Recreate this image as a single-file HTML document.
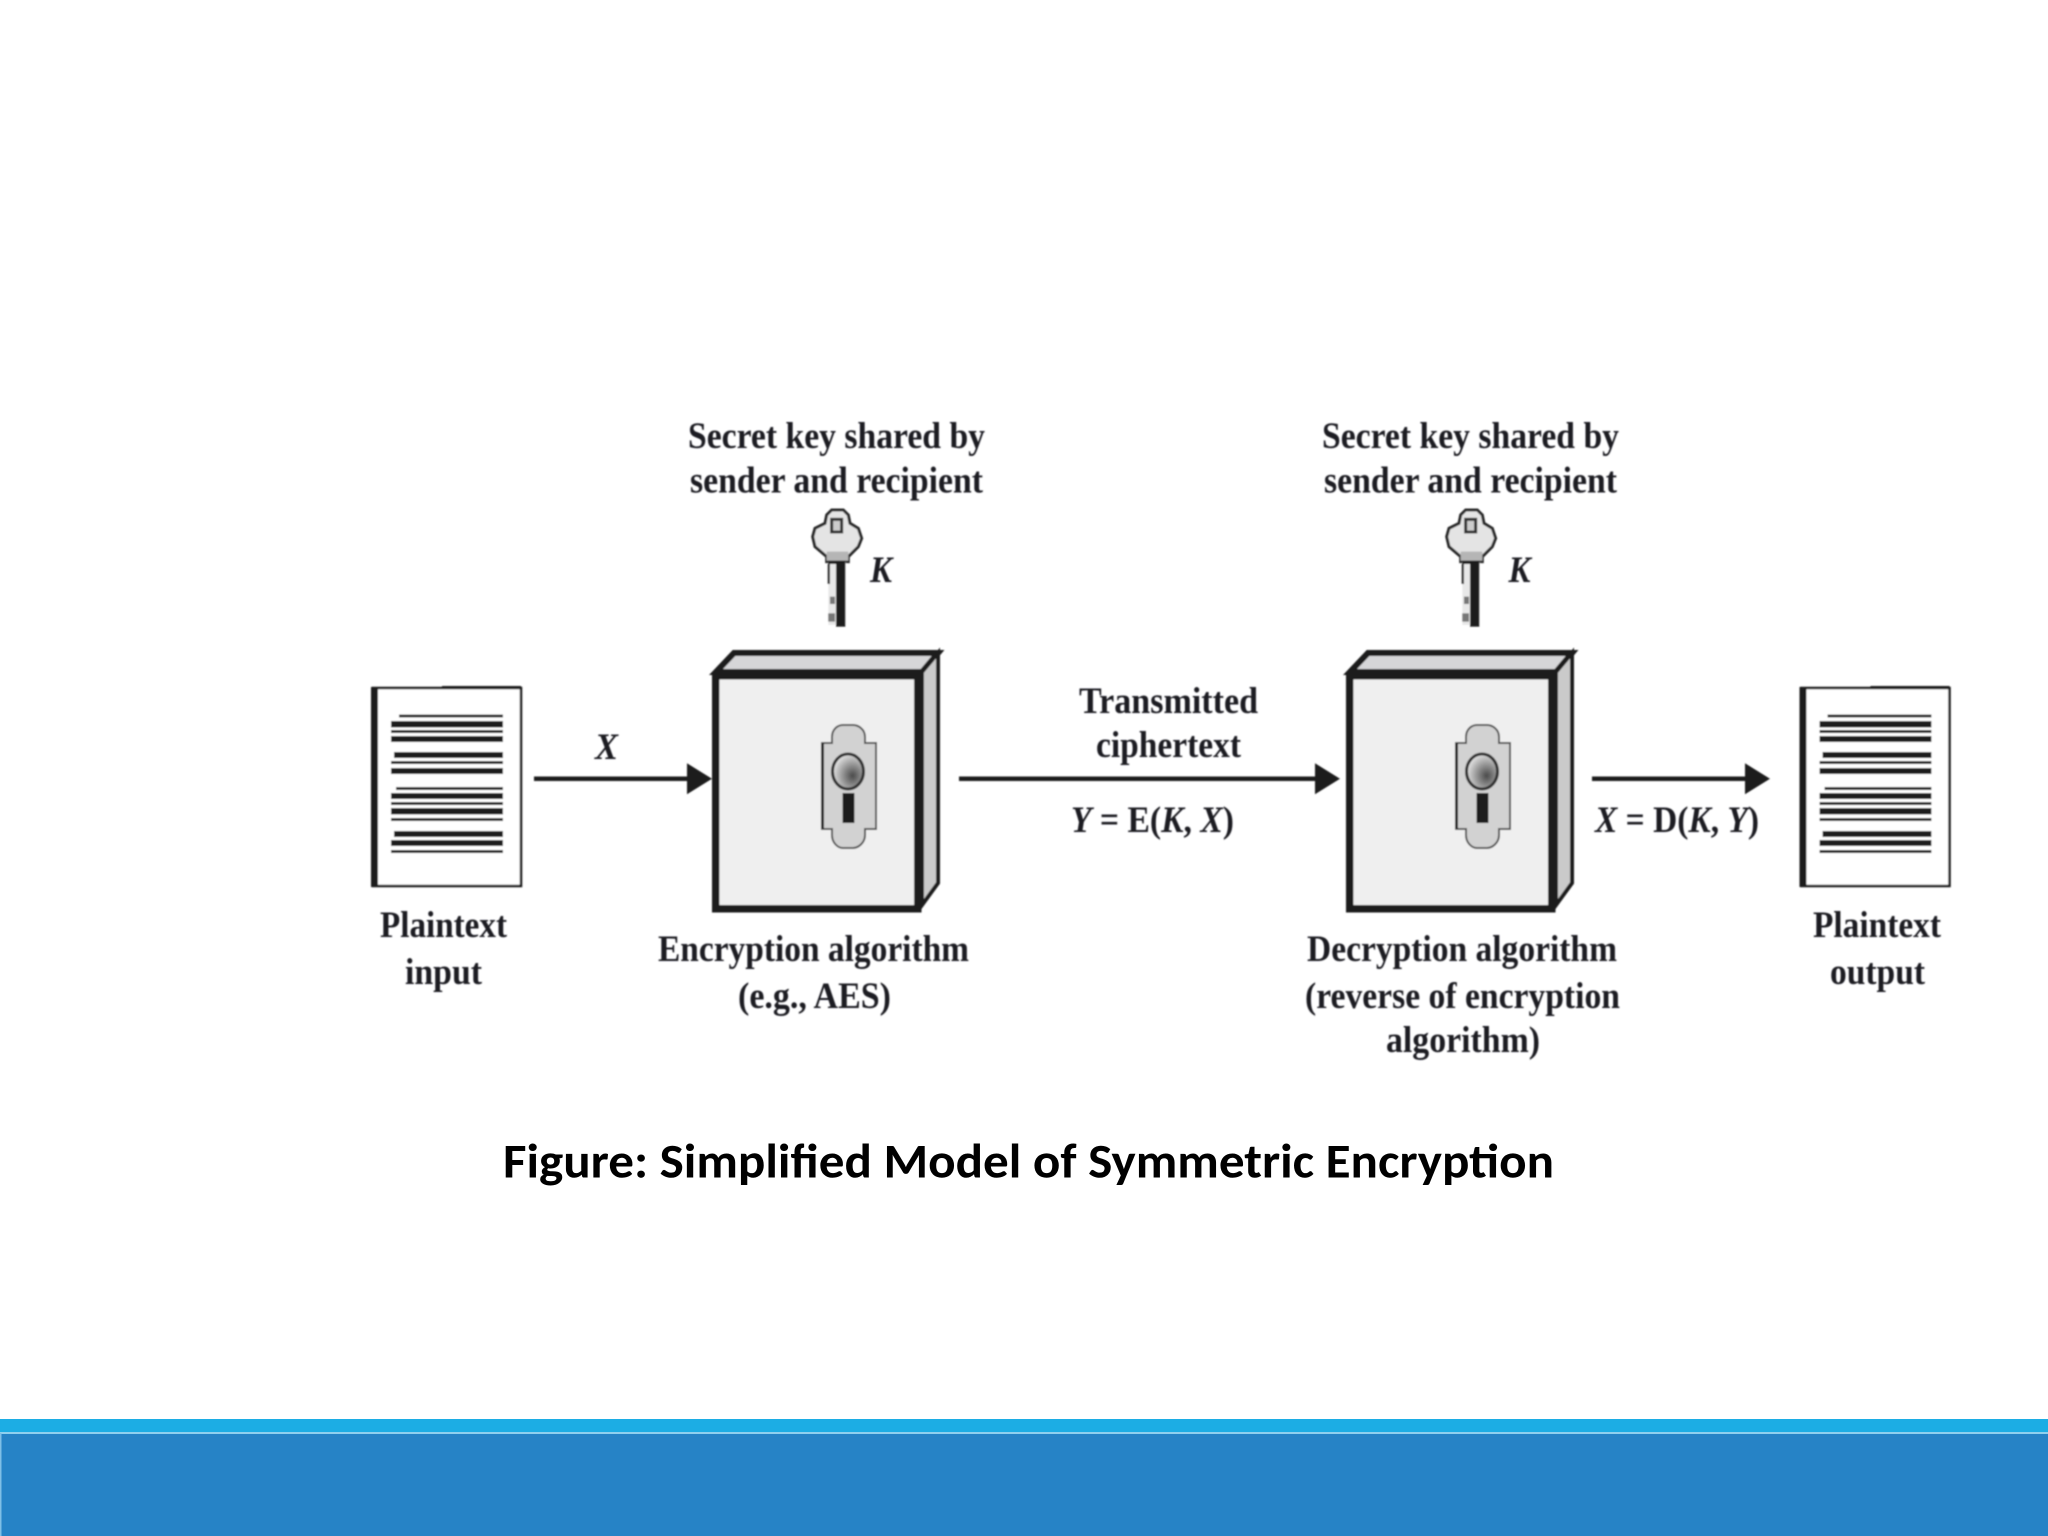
<!DOCTYPE html>
<html><head><meta charset="utf-8"><title>Simplified Model of Symmetric Encryption</title>
<style>html,body{margin:0;padding:0;background:#fff;width:2048px;height:1536px;overflow:hidden}svg{display:block}
.t{font-family:"Liberation Serif",serif;font-weight:bold;font-size:37px;fill:#1d1d24}
.i{font-style:italic}
.c{font-family:"Carlito","Liberation Sans",sans-serif;font-weight:bold;font-size:49px;fill:#000}</style></head>
<body>
<svg width="2048" height="1536" viewBox="0 0 2048 1536" xmlns="http://www.w3.org/2000/svg">
<defs>
<radialGradient id="g" cx="0.65" cy="0.62" r="0.65"><stop offset="0" stop-color="#4a4a4a"/><stop offset="1" stop-color="#e2e2e2"/></radialGradient>
<filter id="b" x="-2%" y="-2%" width="104%" height="104%"><feGaussianBlur stdDeviation="0.85"/></filter>
<g id="doc">
<rect x="373" y="688" width="148" height="198" fill="#fff" stroke="#1a1a1a" stroke-width="2.5"/>
<rect x="371" y="687" width="7" height="200" fill="#1a1a1a"/>
<rect x="442" y="686" width="79" height="3" fill="#1a1a1a"/>
<g fill="#1a1a1a">
<rect x="399" y="714.5" width="104" height="3"/><rect x="391" y="721" width="112" height="6.5"/><rect x="391" y="730" width="112" height="3"/><rect x="391" y="736" width="112" height="6"/>
<rect x="394" y="752" width="109" height="6"/><rect x="391" y="761" width="112" height="3"/><rect x="391" y="768" width="112" height="6"/>
<rect x="396" y="787" width="107" height="3"/><rect x="391" y="793" width="112" height="6"/><rect x="391" y="802" width="112" height="3"/><rect x="391" y="808" width="112" height="6.5"/><rect x="391" y="818" width="112" height="3"/>
<rect x="394" y="831" width="109" height="6"/><rect x="391" y="840" width="112" height="6"/><rect x="391" y="850" width="112" height="3"/>
</g></g>
<g id="box">
<polygon points="716,672 734,653 938,653 922,672" fill="#d6d6d8" stroke="#1a1a1a" stroke-width="6"/>
<polygon points="922,672 938,653 938,883 922,905" fill="#cacaca" stroke="#1a1a1a" stroke-width="4"/>
<rect x="715.75" y="675.75" width="202" height="233" fill="#efefef" stroke="#1a1a1a" stroke-width="7.5"/>
<path d="M822,743 H832 V737 C832,729 838,725 843,725 H853 C858,725 865,729 865,737 V743 H876 V829 H865 V835 C865,843 858,848 853,848 H843 C838,848 832,843 832,835 V829 H822 Z" fill="#d2d2d2" stroke="#555" stroke-width="2"/>
<rect x="821" y="743" width="3" height="86" fill="#222"/>
<ellipse cx="848" cy="771.5" rx="15.5" ry="17.5" fill="url(#g)" stroke="#333" stroke-width="3"/>
<rect x="842.5" y="793" width="12" height="30" fill="#1a1a1a"/>
</g>
<g id="key" transform="translate(780 490) scale(.3333)">
<polygon points="140,75 155,60 190,60 205,75 210,100 235,115 245,145 235,170 205,200 205,215 140,215 140,200 105,170 98,140 105,115 135,100" fill="#e4e4e4" stroke="#2a2a2a" stroke-width="9"/>
<polygon points="140,185 205,185 205,212 140,212" fill="#b5b5b5"/>
<rect x="155" y="88" width="30" height="38" fill="#ccc" stroke="#333" stroke-width="9"/>
<rect x="145" y="215" width="52" height="190" fill="#e8e8e8"/>
<rect x="168" y="212" width="28" height="198" fill="#1a1a1a"/>
<rect x="145" y="212" width="23" height="10" fill="#1a1a1a"/>
<rect x="143" y="222" width="7" height="60" fill="#333"/><rect x="150" y="320" width="15" height="22" fill="#777"/><rect x="145" y="370" width="20" height="25" fill="#777"/>
</g>
<polygon id="head" points="0,-15.5 25,0 0,15.5" fill="#1a1a1a"/>
</defs>

<g filter="url(#b)">
<use href="#doc"/><use href="#doc" x="1428.5"/>
<use href="#box"/><use href="#box" x="634"/>
<use href="#key"/><use href="#key" x="634"/>

<rect x="534" y="776.5" width="155" height="4.5" fill="#1a1a1a"/>
<use href="#head" x="687" y="778.8"/>
<rect x="959" y="776.5" width="358" height="4.5" fill="#1a1a1a"/>
<use href="#head" x="1315" y="778.8"/>
<rect x="1592" y="776.5" width="155" height="4.5" fill="#1a1a1a"/>
<use href="#head" x="1745" y="778.8"/>

<text class="t" x="688" y="448" textLength="297" lengthAdjust="spacingAndGlyphs">Secret key shared by</text>
<text class="t" x="690" y="492.5" textLength="293" lengthAdjust="spacingAndGlyphs">sender and recipient</text>
<text class="t i" x="870" y="582" textLength="22" lengthAdjust="spacingAndGlyphs">K</text>
<text class="t i" x="595" y="759" textLength="23" lengthAdjust="spacingAndGlyphs">X</text>
<text class="t" x="380" y="937" textLength="127" lengthAdjust="spacingAndGlyphs">Plaintext</text>
<text class="t" x="405" y="984" textLength="77" lengthAdjust="spacingAndGlyphs">input</text>
<text class="t" x="658" y="961" textLength="311" lengthAdjust="spacingAndGlyphs">Encryption algorithm</text>
<text class="t" x="738" y="1008" textLength="153" lengthAdjust="spacingAndGlyphs">(e.g., AES)</text>

<text class="t" x="1322" y="448" textLength="297" lengthAdjust="spacingAndGlyphs">Secret key shared by</text>
<text class="t" x="1324" y="492.5" textLength="293" lengthAdjust="spacingAndGlyphs">sender and recipient</text>
<text class="t i" x="1508.5" y="582" textLength="22" lengthAdjust="spacingAndGlyphs">K</text>
<text class="t" x="1079" y="713" textLength="179" lengthAdjust="spacingAndGlyphs">Transmitted</text>
<text class="t" x="1096" y="757" textLength="145" lengthAdjust="spacingAndGlyphs">ciphertext</text>
<text class="t" x="1071" y="832" textLength="163" lengthAdjust="spacingAndGlyphs"><tspan class="i">Y</tspan> = E(<tspan class="i">K</tspan>, <tspan class="i">X</tspan>)</text>
<text class="t" x="1595" y="832" textLength="164" lengthAdjust="spacingAndGlyphs"><tspan class="i">X</tspan> = D(<tspan class="i">K</tspan>, <tspan class="i">Y</tspan>)</text>
<text class="t" x="1307" y="961" textLength="310" lengthAdjust="spacingAndGlyphs">Decryption algorithm</text>
<text class="t" x="1305" y="1008" textLength="315" lengthAdjust="spacingAndGlyphs">(reverse of encryption</text>
<text class="t" x="1386" y="1052" textLength="154" lengthAdjust="spacingAndGlyphs">algorithm)</text>
<text class="t" x="1813" y="937" textLength="128" lengthAdjust="spacingAndGlyphs">Plaintext</text>
<text class="t" x="1830" y="984" textLength="95" lengthAdjust="spacingAndGlyphs">output</text>
</g>

<text class="c" x="503" y="1177.5" textLength="1051" lengthAdjust="spacingAndGlyphs">Figure: Simplified Model of Symmetric Encryption</text>

<rect x="0" y="1419" width="2048" height="13" fill="#1cade4"/>
<rect x="0" y="1432" width="2048" height="2" fill="#8fd0ee"/>
<rect x="0" y="1434" width="2048" height="102" fill="#2683c6"/>
<rect x="0" y="1433" width="1.5" height="103" fill="#7fbfe6"/>
</svg>
</body></html>
